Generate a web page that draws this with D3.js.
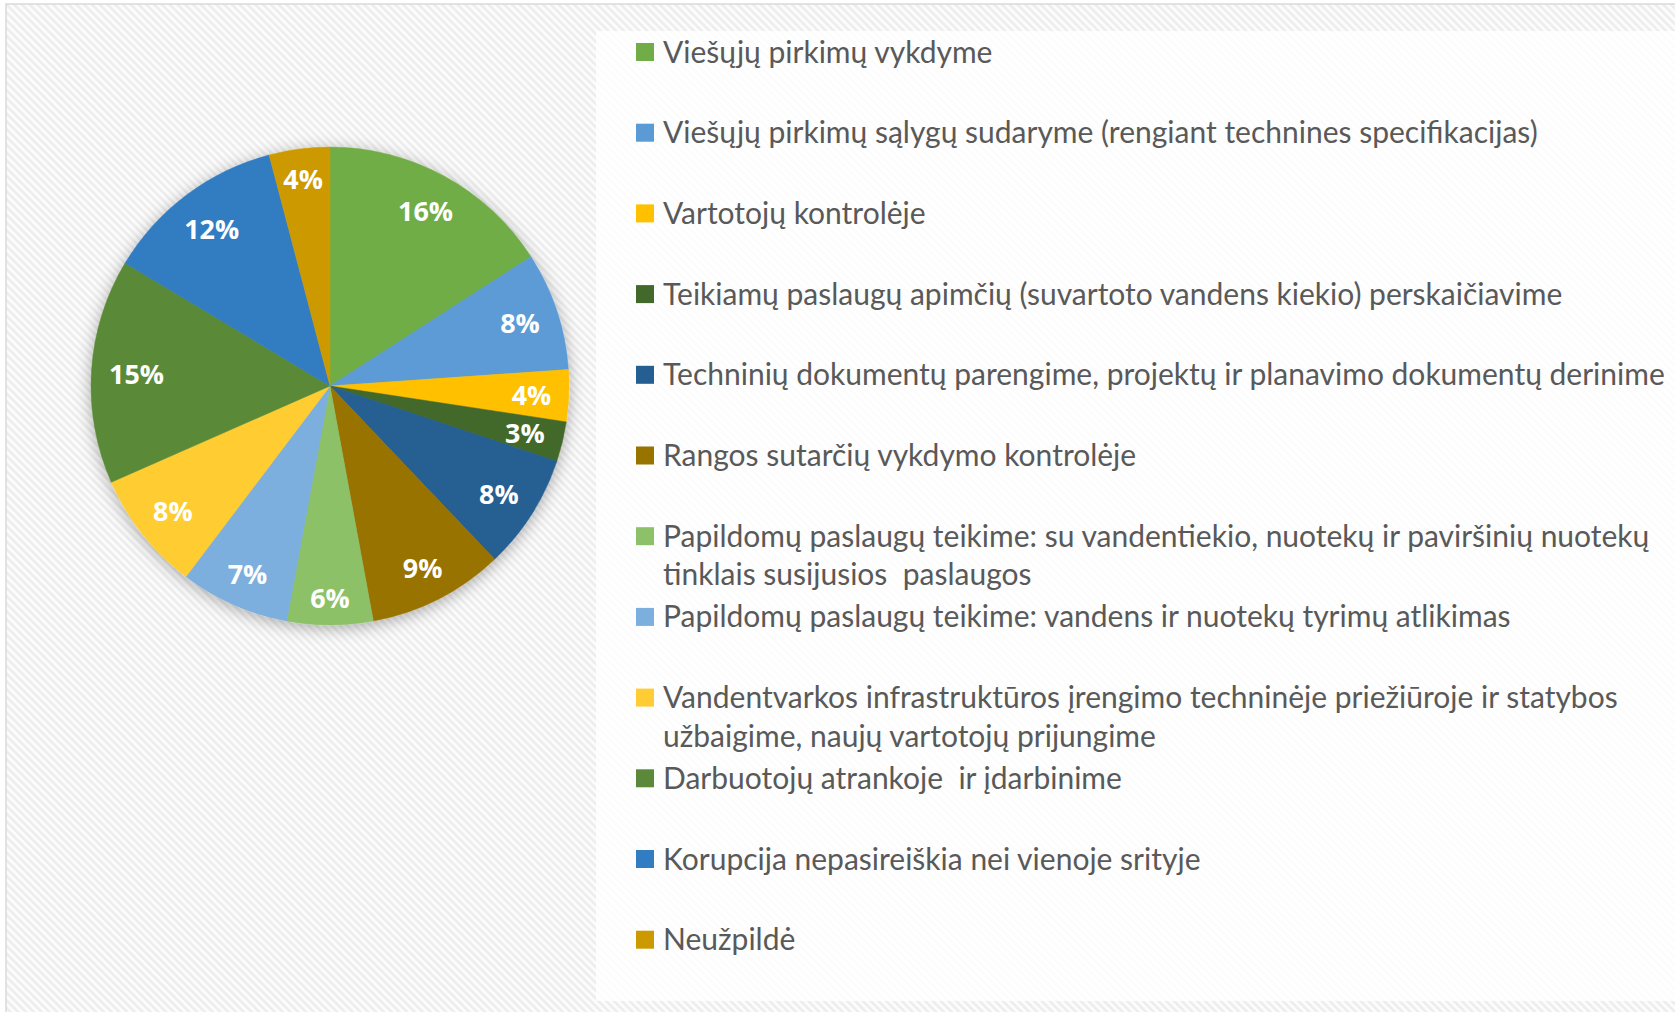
<!DOCTYPE html>
<html>
<head>
<meta charset="utf-8">
<script src="https://cdn.jsdelivr.net/npm/d3@7"></script>
<style>
  body { margin: 0; background: #fff; }
  svg { display: block; }
</style>
</head>
<body>
<svg class="chart"></svg>
<script>
'use strict';

var WIDTH = 1675;
var HEIGHT = 1012;
var PIE_CENTER = { x: 330, y: 386 };
var PIE_RADIUS = 239;
var LEGEND_BOX = { x: 596, y: 31 };
var LEGEND_FIRST_Y = 52;
var LEGEND_STEP = 80.7;
var LEGEND_LINE = 38.5;
var FONT = "Lato, 'Open Sans', sans-serif";
var LABEL_FONT = "'Open Sans', Lato, sans-serif";

// categories (legend order = slice order, clockwise from 12 o'clock)
var categories = [
    "Viešųjų pirkimų vykdyme",
    "Viešųjų pirkimų sąlygų sudaryme (rengiant technines specifikacijas)",
    "Vartotojų kontrolėje",
    "Teikiamų paslaugų apimčių (suvartoto vandens kiekio) perskaičiavime",
    "Techninių dokumentų parengime, projektų ir planavimo dokumentų derinime",
    "Rangos sutarčių vykdymo kontrolėje",
    "Papildomų paslaugų teikime: su vandentiekio, nuotekų ir paviršinių nuotekų\ntinklais susijusios  paslaugos",
    "Papildomų paslaugų teikime: vandens ir nuotekų tyrimų atlikimas",
    "Vandentvarkos infrastruktūros įrengimo techninėje priežiūroje ir statybos\nužbaigime, naujų vartotojų prijungime",
    "Darbuotojų atrankoje  ir įdarbinime",
    "Korupcija nepasireiškia nei vienoje srityje",
    "Neužpildė"
];

// share of answers, percent (labels show them rounded)
var percents = [15.9, 8.0, 3.5, 2.7, 7.8, 9.2, 5.8, 7.4, 8.1, 15.2, 12.3, 4.1];

var colors = [
    "#70AD47", "#5B9BD5", "#FFC000",
    "#43682B", "#255E91", "#997300",
    "#8CC168", "#7CAFDD", "#FFCD33",
    "#5A8A39", "#327DC2", "#CC9A00"
];

var svg = d3.select(".chart")
    .attr("width", WIDTH)
    .attr("height", HEIGHT);

var defs = svg.append("defs");

// light diagonal hatch used by the chart area
var hatch = defs.append("pattern")
    .attr("id", "hatch")
    .attr("patternUnits", "userSpaceOnUse")
    .attr("width", 5.5)
    .attr("height", 5.5)
    .attr("patternTransform", "rotate(-45)");
hatch.append("rect").attr("width", 5.5).attr("height", 5.5).attr("fill", "#fcfcfc");
hatch.append("rect").attr("width", 2.6).attr("height", 5.5).attr("fill", "#ededed");

var shadow = defs.append("filter")
    .attr("id", "pieShadow")
    .attr("x", "-20%").attr("y", "-20%")
    .attr("width", "140%").attr("height", "140%");
shadow.append("feDropShadow")
    .attr("dx", 0)
    .attr("dy", 3)
    .attr("stdDeviation", 8)
    .attr("flood-color", "#000")
    .attr("flood-opacity", 0.32);

// chart area
svg.append("rect")
    .attr("x", 6).attr("y", 4)
    .attr("width", WIDTH).attr("height", HEIGHT)
    .attr("fill", "url(#hatch)")
    .attr("stroke", "#d9d9d9")
    .attr("stroke-width", 1.5);

// legend background
svg.append("rect")
    .attr("x", LEGEND_BOX.x).attr("y", LEGEND_BOX.y)
    .attr("width", WIDTH - LEGEND_BOX.x)
    .attr("height", 1001 - LEGEND_BOX.y)
    .attr("fill", "#fff")
    .attr("fill-opacity", 0.82);

/**
 * Find a font size that makes the text run the given width
 */
function fitFontSize(text, family, weight, targetWidth) {
    var probe = svg.append("text")
        .attr("font-family", family)
        .attr("font-weight", weight)
        .attr("font-size", 100)
        .style("white-space", "pre")
        .text(text);
    var w = probe.node().getComputedTextLength();
    probe.remove();
    return 100 * targetWidth / w;
}

var legendSize = fitFontSize(categories[4], FONT, "normal", 1002);
var labelSize = fitFontSize("16%", LABEL_FONT, "bold", 55);

// pie
var pie = d3.pie().sort(null).value(function (d) { return d; });
var arc = d3.arc().innerRadius(0).outerRadius(PIE_RADIUS);
var arcs = pie(percents);

var pieGroup = svg.append("g")
    .attr("transform", "translate(" + PIE_CENTER.x + "," + PIE_CENTER.y + ")");

pieGroup.append("g")
    .attr("filter", "url(#pieShadow)")
    .selectAll("path")
    .data(arcs)
    .enter()
    .append("path")
    .attr("d", arc)
    .attr("fill", function (d, i) { return colors[i]; })
    .attr("stroke", function (d, i) { return colors[i]; })
    .attr("stroke-width", 0.5);

// data labels, placed "inside end": outer corner of the label box sits just inside the rim
var labels = pieGroup.selectAll("text.label")
    .data(arcs)
    .enter()
    .append("text")
    .attr("class", "label")
    .attr("font-family", LABEL_FONT)
    .attr("font-weight", "bold")
    .attr("font-size", labelSize)
    .attr("fill", "#fff")
    .attr("text-anchor", "middle")
    .attr("dominant-baseline", "central")
    .text(function (d) { return Math.round(d.value) + "%"; });

labels.each(function (d) {
    var box = this.getBBox();
    var mid = (d.startAngle + d.endAngle) / 2;
    var ux = Math.sin(mid);
    var uy = -Math.cos(mid);
    var cx = (ux < 0 ? -1 : 1) * box.width / 2;
    var cy = (uy < 0 ? -1 : 1) * labelSize * 0.36;
    var uc = ux * cx + uy * cy;
    var reach = PIE_RADIUS - 17;
    var dist = -uc + Math.sqrt(uc * uc - (cx * cx + cy * cy) + reach * reach);
    d3.select(this)
        .attr("x", ux * dist)
        .attr("y", uy * dist);
});

// legend
var legendY = d3.scaleLinear()
    .domain([0, categories.length - 1])
    .range([LEGEND_FIRST_Y, LEGEND_FIRST_Y + LEGEND_STEP * (categories.length - 1)]);

var legend = svg.append("g").attr("class", "legend");

var item = legend.selectAll("g")
    .data(categories)
    .enter()
    .append("g")
    .attr("transform", function (d, i) { return "translate(0," + legendY(i) + ")"; });

item.append("rect")
    .attr("x", 636)
    .attr("y", -9)
    .attr("width", 18)
    .attr("height", 18)
    .attr("fill", function (d, i) { return colors[i]; });

var itemText = item.append("text")
    .attr("font-family", FONT)
    .attr("font-size", legendSize)
    .attr("fill", "#595959")
    .style("white-space", "pre");

itemText.selectAll("tspan")
    .data(function (d) { return d.split("\n"); })
    .enter()
    .append("tspan")
    .attr("x", 663)
    .attr("y", function (d, j) { return j * LEGEND_LINE; })
    .attr("dy", "0.35em")
    .text(function (d) { return d; });
</script>
</body>
</html>
